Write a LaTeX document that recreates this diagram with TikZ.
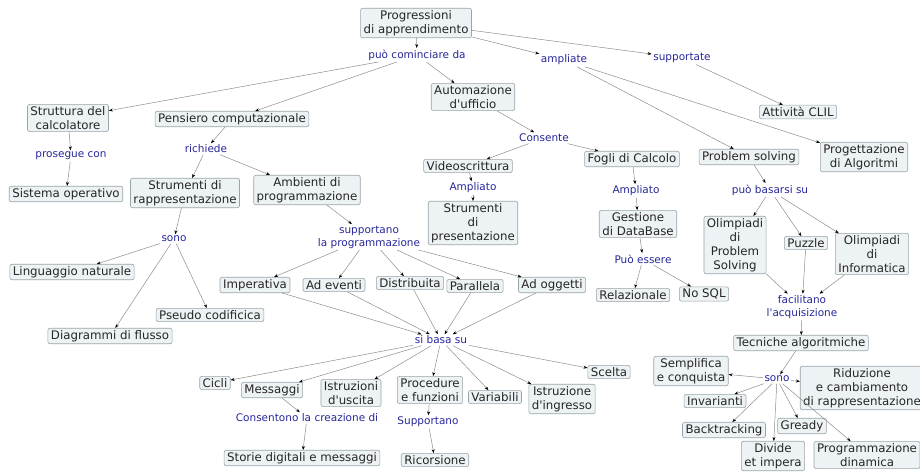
\documentclass[tikz,border=0pt]{standalone}
\usepackage{fontspec}
\setmainfont{DejaVu Sans}
\usetikzlibrary{arrows.meta}
\definecolor{boxfill}{HTML}{EDF2F4}
\definecolor{boxline}{HTML}{9AA3A8}
\definecolor{linkblue}{HTML}{26269A}
\definecolor{edgegray}{HTML}{8C8C8C}
\newcommand{\apos}{\textquotesingle}
\begin{document}
\begin{tikzpicture}[x=1pt,y=-1pt,>={Stealth[length=4pt,width=3pt,color=black]},
	concept/.style={draw=boxline,fill=boxfill,rounded corners=2pt,line width=0.6pt,inner xsep=3pt,inner ysep=2pt,align=center,text=black!85,font=\fontsize{11.8}{14}\selectfont},
	phrase/.style={inner sep=1.5pt,align=center,text=linkblue,font=\fontsize{10.5}{13}\selectfont},
	link/.style={->,draw=edgegray,line width=0.5pt}]
	\useasboundingbox (0,0) rectangle (920,471);
	\node[concept] (prog) at (416,23) {Progressioni\\di apprendimento};
	\node[phrase] (cominc) at (417,55) {può cominciare da};
	\node[phrase] (ampl) at (564,60) {ampliate};
	\node[phrase] (supp) at (682,58) {supportate};
	\node[concept] (clil) at (798,112) {Attività CLIL};
	\node[concept] (proget) at (864,157) {Progettazione\\di Algoritmi};
	\node[concept] (autom) at (473,97) {Automazione\\d\apos ufficio};
	\node[concept] (strut) at (68,118) {Struttura del\\calcolatore};
	\node[concept] (pens) at (232,119) {Pensiero computazionale};
	\node[phrase] (rich) at (206,149) {richiede};
	\node[phrase] (proseg) at (71,156) {prosegue con};
	\node[concept] (sisop) at (66,194) {Sistema operativo};
	\node[concept] (strrap) at (185,193) {Strumenti di\\rappresentazione};
	\node[concept] (ambprog) at (307,190) {Ambienti di\\programmazione};
	\node[phrase] (sonoA) at (174,239) {sono};
	\node[phrase] (suppprog) at (369,237) {supportano\\la programmazione};
	\node[concept] (linguag) at (72,272) {Linguaggio naturale};
	\node[concept] (pseudo) at (210,315) {Pseudo codificica};
	\node[concept] (diagr) at (110,336) {Diagrammi di flusso};
	\node[concept] (imper) at (255,285) {Imperativa};
	\node[concept] (adev) at (334,285) {Ad eventi};
	\node[concept] (distr) at (410,283) {Distribuita};
	\node[concept] (parall) at (475,286) {Parallela};
	\node[concept] (adogg) at (552,285) {Ad oggetti};
	\node[phrase] (basa) at (441,340) {si basa su};
	\node[concept] (cicli) at (215,383) {Cicli};
	\node[concept] (mess) at (272,390) {Messaggi};
	\node[concept] (istru) at (351,393) {Istruzioni\\d\apos uscita};
	\node[concept] (proc) at (430,390) {Procedure\\e funzioni};
	\node[concept] (variab) at (495,397) {Variabili};
	\node[concept] (istring) at (562,399) {Istruzione\\d\apos ingresso};
	\node[concept] (scelta) at (609,372) {Scelta};
	\node[phrase] (consent) at (307,418) {Consentono la creazione di};
	\node[concept] (storie) at (302,458) {Storie digitali e messaggi};
	\node[phrase] (supportano) at (428,422) {Supportano};
	\node[concept] (ricors) at (435,460) {Ricorsione};
	\node[phrase] (consente) at (544,138) {Consente};
	\node[concept] (video) at (468,166) {Videoscrittura};
	\node[phrase] (amplA) at (473,188) {Ampliato};
	\node[concept] (strpres) at (473,223) {Strumenti\\di\\presentazione};
	\node[concept] (fogli) at (632,159) {Fogli di Calcolo};
	\node[phrase] (amplB) at (636,191) {Ampliato};
	\node[concept] (gestdb) at (638,224) {Gestione\\di DataBase};
	\node[phrase] (puoess) at (643,259) {Può essere};
	\node[concept] (relaz) at (633,295) {Relazionale};
	\node[concept] (nosql) at (704,294) {No SQL};
	\node[concept] (probsol) at (749,157) {Problem solving};
	\node[phrase] (basarsi) at (770,190) {può basarsi su};
	\node[concept] (olimps) at (735,245) {Olimpiadi\\di\\Problem\\Solving};
	\node[concept] (puzzle) at (806,243) {Puzzle};
	\node[concept] (olimpinf) at (872,254) {Olimpiadi\\di\\Informatica};
	\node[phrase] (facil) at (802,307) {facilitano\\l\apos acquisizione};
	\node[concept] (tecn) at (801,343) {Tecniche algoritmiche};
	\node[phrase] (sonoB) at (777,379) {sono};
	\node[concept] (sempl) at (691,371) {Semplifica\\e conquista};
	\node[concept] (ridu) at (862,388) {Riduzione\\e cambiamento\\di rappresentazione};
	\node[concept] (invar) at (715,401) {Invarianti};
	\node[concept] (backtr) at (724,430) {Backtracking};
	\node[concept] (gready) at (802,426) {Gready};
	\node[concept] (divide) at (773,456) {Divide\\et impera};
	\node[concept] (progdin) at (867,455) {Programmazione\\dinamica};
	\foreach \a/\b in {prog/cominc,cominc/strut,cominc/pens,cominc/autom,prog/ampl,ampl/probsol,ampl/proget,prog/supp,supp/clil,
		strut/proseg,proseg/sisop,pens/rich,rich/strrap,rich/ambprog,strrap/sonoA,sonoA/linguag,sonoA/diagr,sonoA/pseudo,
		ambprog/suppprog,suppprog/imper,suppprog/adev,suppprog/distr,suppprog/parall,suppprog/adogg,
		imper/basa,adev/basa,distr/basa,parall/basa,adogg/basa,
		basa/cicli,basa/mess,basa/istru,basa/proc,basa/variab,basa/istring,basa/scelta,
		mess/consent,consent/storie,proc/supportano,supportano/ricors,
		autom/consente,consente/video,consente/fogli,video/amplA,amplA/strpres,fogli/amplB,amplB/gestdb,gestdb/puoess,puoess/relaz,puoess/nosql,
		probsol/basarsi,basarsi/olimps,basarsi/puzzle,basarsi/olimpinf,olimps/facil,puzzle/facil,olimpinf/facil,facil/tecn,
		tecn/sonoB,sonoB/sempl,sonoB/ridu,sonoB/invar,sonoB/backtr,sonoB/divide,sonoB/gready,sonoB/progdin}
		\draw[link] (\a) -- (\b);
\end{tikzpicture}
\end{document}
